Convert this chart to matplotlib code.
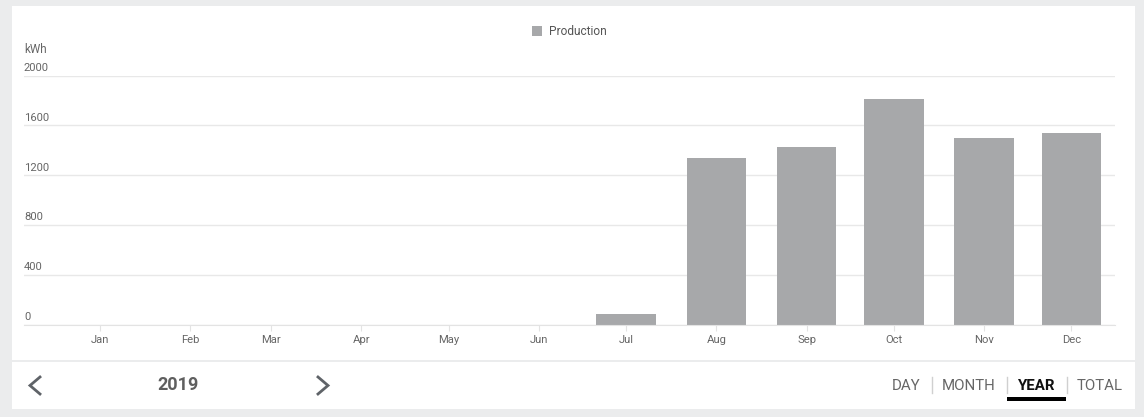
import datetime as dt
import matplotlib
matplotlib.use("Agg")
import matplotlib.pyplot as plt
from matplotlib.patches import Rectangle
from matplotlib.lines import Line2D

plt.rcParams['font.family'] = ['Roboto', 'DejaVu Sans']

# data
months = ["Jan", "Feb", "Mar", "Apr", "May", "Jun", "Jul", "Aug", "Sep", "Oct", "Nov", "Dec"]
production = [0, 0, 0, 0, 0, 0, 88, 1341, 1430, 1815, 1502, 1542]
yticks = [0, 400, 800, 1200, 1600, 2000]
year = 2019
tabs = ["DAY", "MONTH", "YEAR", "TOTAL"]
active_tab = "YEAR"

month_dates = [dt.date(year, m + 1, 1) for m in range(len(months))]

W, H = 1144, 417
fig = plt.figure(figsize=(W / 100, H / 100), dpi=100, facecolor="#ebeced")

def px(x0, y0, x1, y1):
    # figure fraction box from pixel coords (top-left origin)
    return [x0 / W, 1 - y1 / H, (x1 - x0) / W, (y1 - y0) / H]

def fx(x):
    return x / W

def fy(y):
    return 1 - y / H

# white panels
for x0, y0, x1, y1 in [(12, 6, 1135, 360), (12, 362, 1135, 409)]:
    fig.patches.append(Rectangle((fx(x0), fy(y1)), (x1 - x0) / W, (y1 - y0) / H,
                                 transform=fig.transFigure, facecolor="white",
                                 edgecolor="none", zorder=-10))

ax = fig.add_axes(px(24, 75.5, 1115, 325))
ax.set_zorder(5)
ax.set_facecolor("none")
ax.bar(month_dates, production, width=20.5, color="#a7a8aa", zorder=2,
       label="Production")

ax.set_xlim(dt.date(year - 1, 12, 6), dt.date(year, 12, 16))
ax.set_ylim(0, 2000)
ax.set_xticks(month_dates)
ax.set_xticklabels(months)
ax.set_yticks(yticks)
ax.set_yticklabels([])
ax.grid(axis="y", color="#e8e8e8", linewidth=1, zorder=0)
ax.tick_params(axis="x", length=4, color="#e3e3e3", labelsize=8.1,
               labelcolor="#666666", pad=3.5)
ax.tick_params(axis="y", length=0)
for s in ["top", "right", "left"]:
    ax.spines[s].set_visible(False)
ax.spines["bottom"].set_color("#e3e3e3")

ytrans = matplotlib.transforms.blended_transform_factory(ax.transAxes, ax.transData)
for v in yticks:
    ax.text(0, v + 22, str(v), transform=ytrans, ha="left", va="bottom",
            fontsize=8.1, color="#666666")
ax.text(0, 1.08, "kWh", transform=ax.transAxes, ha="left", va="bottom",
        fontsize=8.5, color="#666666")

leg = ax.legend(loc="lower center", bbox_to_anchor=(0.5, 1.13), frameon=False,
                fontsize=8.6, handlelength=0.85, handleheight=0.85,
                handletextpad=0.6, borderaxespad=0)
for t in leg.get_texts():
    t.set_color("#555555")

# bottom control bar: chevrons
for pts in [[(40, 377), (30, 385.5), (40, 394)], [(318, 377), (328, 385.5), (318, 394)]]:
    fig.lines.append(Line2D([fx(p[0]) for p in pts], [fy(p[1]) for p in pts],
                            transform=fig.transFigure, color="#5f6368",
                            linewidth=2.0, solid_joinstyle="miter"))
fig.text(fx(178), fy(385), str(year), fontsize=13, fontweight="bold",
         color="#5f5f5f", ha="center", va="center")

tab_x = [906, 969, 1036, 1100]
for name, x in zip(tabs, tab_x):
    active = name == active_tab
    fig.text(fx(x), fy(386), name, fontsize=10.8,
             fontweight="bold" if active else "normal",
             color="#111111" if active else "#666666",
             ha="center", va="center")
    if active:
        fig.patches.append(Rectangle((fx(1007), fy(401)), 59 / W, 4 / H,
                                     transform=fig.transFigure, facecolor="black",
                                     edgecolor="none"))
for x in [932, 1007, 1067]:
    fig.lines.append(Line2D([fx(x), fx(x)], [fy(393), fy(377)],
                            transform=fig.transFigure, color="#d0d0d0",
                            linewidth=1))

fig.savefig("out.png", dpi=100, facecolor=fig.get_facecolor())
